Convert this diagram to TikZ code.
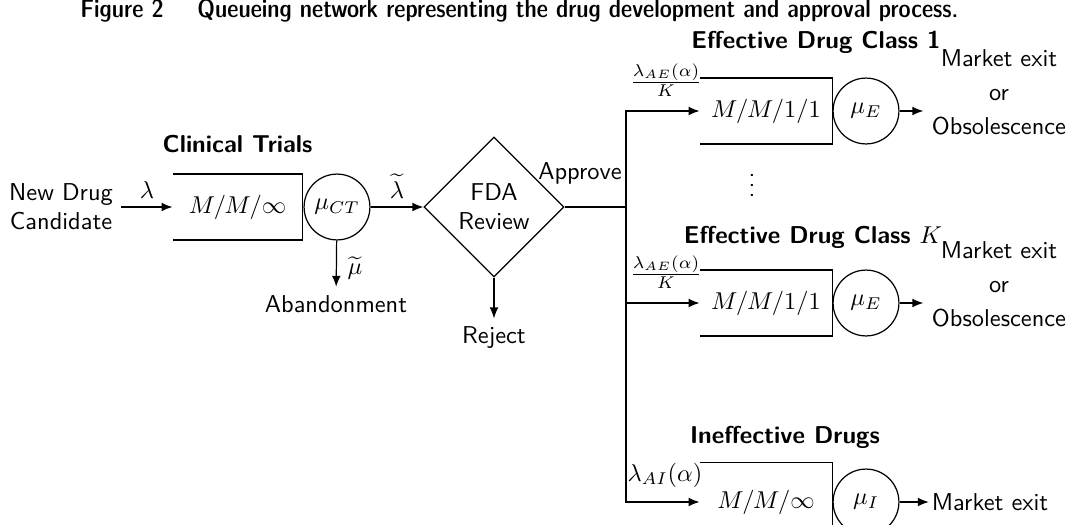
\documentclass[tikz,border=0pt]{standalone}
\usetikzlibrary{shapes.geometric,arrows.meta}
\begin{document}
\begin{tikzpicture}[x=0.41pt,y=-0.41pt,
  every node/.style={font=\sffamily},
  arr/.style={-{Latex[length=4.5pt,width=3.6pt]},line width=0.5pt},
  ln/.style={line width=0.5pt},
  qbox/.style={minimum width=54.1pt,minimum height=26.6pt,inner sep=0pt},
  srv/.style={circle,draw,line width=0.5pt,minimum size=27pt,inner sep=0pt},
  hdr/.style={font=\sffamily\bfseries},
  ttl/.style={anchor=west,inner sep=0pt,font=\sffamily\fontsize{10.4}{12}\fontseries{sbc}\selectfont},
  outtxt/.style={align=center,font=\sffamily\fontsize{10}{14}\selectfont}]
\useasboundingbox (0,0) rectangle (1067,524);

% title
\node[ttl] (fig) at (80,11) {Figure 2};
\node[ttl] (cap) at (197,11) {Queueing network representing the drug development and approval process.};

% clinical trials
\node[align=center] (newdrug) at (61,207) {New Drug\\Candidate};
\node[qbox,minimum width=52.9pt] (ct) at (237.5,207) {$M/M/\infty$};
\draw[ln] (ct.north west) -- (ct.north east) -- (ct.south east) -- (ct.south west);
\node[hdr] (cthdr) at (237.5,144) {Clinical Trials};
\node[srv] (ctc) at (337,207) {$\mu_{CT}$};
\node[diamond,draw,ln,minimum width=57.4pt,minimum height=57.4pt,inner sep=0pt,align=center] (fda) at (494,207) {FDA\\Review};
\node (abandon) at (336,304) {Abandonment};
\node (reject) at (494,338) {Reject};
\node (approve) at (580,173) {Approve};
\coordinate (j) at (626,207);

\draw[arr] (newdrug.east) -- node[above] (lam) {$\lambda$} (ct.west);
\draw[arr] (ctc) -- node[above] (lamt) {$\widetilde{\lambda}$} (fda);
\draw[arr] (ctc) -- node[right=1pt,pos=0.6] (mut) {$\widetilde{\mu}$} (abandon);
\draw[arr] (fda) -- (reject);
\draw[ln] (fda.east) -- (j);

% effective drug class 1
\node[hdr] (e1hdr) at (816,42) {Effective Drug Class 1};
\node[qbox] (e1) at (766,111) {$M/M/1/1$};
\draw[ln] (e1.north west) -- (e1.north east) -- (e1.south east) -- (e1.south west);
\node[srv] (e1c) at (866,111) {$\mu_E$};
\node[outtxt] (e1out) at (999,92) {Market exit\\or\\Obsolescence};
\draw[arr] (e1c) -- (e1c -| e1out.west);
\node (e1rate) at (666,80) {$\frac{\lambda_{AE}(\alpha)}{K}$};
\draw[arr] (j) |- (e1);

\node[inner sep=0pt] (dots) at (752,178) {$\vdots$};

% effective drug class K
\node[hdr] (eKhdr) at (813,237) {Effective Drug Class $K$};
\node[qbox] (eK) at (766,303) {$M/M/1/1$};
\draw[ln] (eK.north west) -- (eK.north east) -- (eK.south east) -- (eK.south west);
\node[srv] (eKc) at (866,303) {$\mu_E$};
\node[outtxt] (eKout) at (999,284) {Market exit\\or\\Obsolescence};
\draw[arr] (eKc) -- (eKc -| eKout.west);
\node (eKrate) at (666,272) {$\frac{\lambda_{AE}(\alpha)}{K}$};
\draw[arr] (j) |- (eK);

% ineffective drugs
\node[hdr] (ihdr) at (785,437) {Ineffective Drugs};
\node[qbox,minimum height=32pt] (ib) at (766,502) {$M/M/\infty$};
\draw[ln] (ib.north west) -- (ib.north east) -- (ib.south east) -- (ib.south west);
\node[srv] (ic) at (866,502) {$\mu_I$};
\node[inner sep=1pt] (iout) at (990,502) {Market exit};
\draw[arr] (ic) -- (iout);
\node (irate) at (665,475) {$\lambda_{AI}(\alpha)$};
\draw[arr] (j) |- (ib);
\end{tikzpicture}
\end{document}
